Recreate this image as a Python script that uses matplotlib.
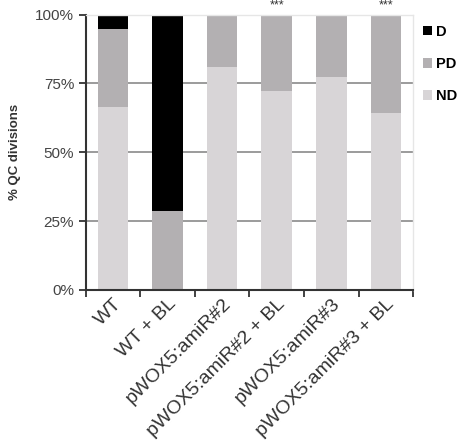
import numpy as np
import matplotlib.pyplot as plt

plt.rcParams['font.family'] = ['Liberation Sans', 'DejaVu Sans']

# lines and their QC division fractions (%)
lines = ["WT", "WT + BL", "pWOX5:amiR#2", "pWOX5:amiR#2 + BL",
         "pWOX5:amiR#3", "pWOX5:amiR#3 + BL"]
nd = [66.4, 0.0, 80.9, 72.3, 77.5, 64.2]
pd_ = [28.4, 28.8, 19.1, 27.7, 22.5, 35.8]
d = [5.2, 71.2, 0.0, 0.0, 0.0, 0.0]
signif = ["", "", "", "***", "", "***"]

fig = plt.figure(figsize=(4.62, 4.42), dpi=100)
ax = fig.add_axes([0.186, 0.344, 0.708, 0.623])

x = np.arange(len(lines))
w = 0.56
nd = np.array(nd)
pd_ = np.array(pd_)
d = np.array(d)

ax.bar(x, nd, w, color="#d8d5d7", label="ND", zorder=2)
ax.bar(x, pd_, w, bottom=nd, color="#b3b0b2", label="PD", zorder=2)
ax.bar(x, d, w, bottom=nd + pd_, color="#000000", label="D", zorder=2)

for xi, s in zip(x, signif):
    if s:
        ax.text(xi, 101.0, s, ha="center", va="bottom", fontsize=9,
                color="#333333")

ax.set_xlim(-0.5, len(lines) - 0.5)
ax.set_ylim(0, 100)
ax.set_yticks([0, 25, 50, 75, 100])
ax.set_yticklabels(["0%", "25%", "50%", "75%", "100%"], fontsize=11,
                   color="#444444")
ax.yaxis.grid(True, color="#8a8a8a", lw=1.2, zorder=0)
ax.set_axisbelow(True)

# category labels centered on bars, tick marks at category edges
ax.set_xticks(x)
ax.set_xticklabels(lines, rotation=45, ha="right", rotation_mode="anchor",
                   fontsize=14, color="#333333")
ax.tick_params(axis="x", length=0, pad=4)
ax.set_xticks(np.arange(-0.5, len(lines)), minor=True)
ax.tick_params(axis="x", which="minor", length=5, width=1.3, color="#333333")
ax.tick_params(axis="y", length=5, width=1.3, color="#333333")

for side in ["left", "bottom"]:
    ax.spines[side].set_color("#333333")
    ax.spines[side].set_linewidth(1.5)
for side in ["top", "right"]:
    ax.spines[side].set_color("#e6e6e6")
    ax.spines[side].set_linewidth(1.0)

ax.set_ylabel("% QC divisions", fontsize=9.5, fontweight="bold",
              color="#333333", labelpad=10)

h, l = ax.get_legend_handles_labels()
ax.legend(h[::-1], l[::-1], loc="upper left", bbox_to_anchor=(1.0, 1.0),
          frameon=False, handlelength=0.6, handleheight=0.6,
          handletextpad=0.3, labelspacing=1.25, borderaxespad=0.3,
          prop={"weight": "bold", "size": 10.5})

fig.savefig("out.png", dpi=100)
